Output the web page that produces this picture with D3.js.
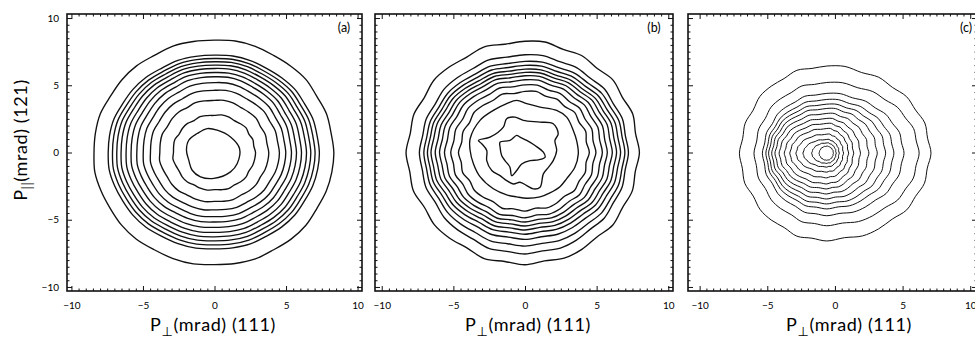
<!DOCTYPE html>
<html>
<head>
<meta charset="utf-8">
<script src="https://cdn.jsdelivr.net/npm/d3@7"></script>
<style>
  body { margin: 0; background: #fff; }
  svg { display: block; }
  text { font-family: Lato, "DejaVu Sans", sans-serif; fill: #000; }
</style>
</head>
<body>
<svg id="chart" width="975" height="339"></svg>
<script>
// ---------------------------------------------------------------------------
// Momentum-density contour maps, three samples (a), (b), (c).
// Each regular contour is given by where it crosses the horizontal and
// vertical lines through the pattern centre (all values in mrad).
// ---------------------------------------------------------------------------
const panelLabels = ["(a)", "(b)", "(c)"];
const majorTicks = [-10, -5, 0, 5, 10];
const minorStep = 0.5;
const xTitleMain = "(mrad) (111)";
const yTitleMain = "(mrad) (121)";

// panel (a)
const aCentre = [0, 0];
const aLeft   = [-8.45, -7.45, -7.15, -6.85, -6.55, -6.2, -5.85, -5.45, -5.0, -4.5, -3.85, -2.9];
const aRight  = [8.3, 7.3, 7.0, 6.7, 6.4, 6.05, 5.7, 5.35, 4.95, 4.5, 3.75, 2.82];
const aTop    = [8.38, 7.26, 7.01, 6.77, 6.52, 6.27, 5.97, 5.65, 5.22, 4.65, 3.9, 2.79];
const aBottom = [-8.38, -7.2, -6.9, -6.6, -6.3, -5.97, -5.6, -5.2, -4.8, -4.3, -3.68, -2.81];
const aWobbleScale = [1.4, 1, 1, 1, 1, 1, 1, 1, 1, 1.2, 1.4, 1.6];
const aInner = [[-1.96, 0.17], [-1.8, 0.91], [-1.21, 1.41], [-0.51, 1.78], [0.19, 1.66], [1.12, 1.16],
                [1.75, 0.3], [1.59, -0.82], [1.12, -1.44], [-0.05, -1.93], [-0.98, -1.81],
                [-1.56, -1.32], [-1.8, -0.57]];
const aWobble = [0.03, -0.02, 0.02, -0.03, 0.04, 0, -0.03, 0.02, 0.03, -0.02, 0, 0.03,
                 -0.03, 0.02, 0.01, -0.03, 0.03, 0, -0.02, 0.03, -0.01, -0.03, 0.02, 0.03,
                 -0.02, 0.01, 0.02, -0.03, 0, 0.03, -0.02, 0.02, 0.03, -0.03, 0.01, 0.02];

// panel (b)
const bCentre = [0, 0];
const bLeft   = [-8.2, -7.3, -7.0, -6.75, -6.5, -6.2, -5.9, -5.55, -5.1, -4.55];
const bRight  = [7.9, 7.16, 6.92, 6.62, 6.34, 6.04, 5.69, 5.34, 4.88, 4.41];
const bTop    = [8.26, 7.26, 6.77, 6.47, 6.19, 5.95, 5.7, 5.4, 5.02, 4.53];
const bBottom = [-8.28, -7.5, -6.92, -6.42, -6.04, -5.72, -5.42, -5.12, -4.8, -4.3];
const bWobbleScale = [0.85, 0.6, 0.5, 0.5, 0.5, 0.55, 0.55, 0.6, 0.7, 0.8];
const bWobble = [0.10, -0.08, 0.12, -0.06, 0.14, -0.10, 0.06, -0.12, 0.10, 0.02, -0.10, 0.12,
                 -0.08, 0.04, 0.12, -0.10, 0.06, -0.08, 0.12, -0.04, 0.10, -0.12, 0.08, 0.02,
                 -0.10, 0.14, -0.06, 0.08, -0.12, 0.10, 0.04, -0.10, 0.12, -0.06, 0.08, -0.10];
const bRing3 = [[-3.83, 1.02], [-3.14, 2.39], [-2.21, 3.13], [-1.28, 3.63], [-0.58, 3.88], [0.12, 3.63],
                [1.05, 3.38], [2.21, 3.13], [2.91, 2.63], [3.37, 1.64], [3.6, 0.9], [3.72, -0.1],
                [3.48, -1.1], [2.91, -1.94], [2.44, -2.54], [1.74, -3.0], [1.05, -3.3], [0.12, -3.4],
                [-0.58, -3.3], [-1.28, -3.15], [-2.21, -2.7], [-3.14, -1.8], [-3.6, -0.84], [-3.83, 0.15]];
const bRing2 = [[-3.25, 0.9], [-2.44, 1.14], [-1.51, 1.89], [-1.28, 2.51], [-0.7, 2.63], [-0.12, 2.39],
                [1.05, 2.26], [1.97, 2.14], [2.32, 1.39], [2.09, 0.9], [2.21, 0.15], [1.97, -0.6],
                [1.63, -1.1], [1.28, -1.59], [1.05, -2.59], [0.58, -2.71], [0.12, -2.46], [-0.35, -2.21],
                [-0.81, -2.34], [-1.28, -2.09], [-1.74, -1.72], [-2.32, -1.34], [-2.67, -0.6],
                [-2.67, 0.15], [-3.02, 0.65]];
const bRing1 = [[-1.74, 0.77], [-1.05, 0.9], [-0.58, 1.27], [-0.35, 1.14], [0.12, 0.9], [0.7, 0.52],
                [1.28, 0.02], [1.4, -0.35], [0.93, -0.55], [0.35, -0.6], [-0.23, -0.85], [-0.58, -1.34],
                [-0.93, -1.72], [-1.05, -1.09], [-1.4, -0.6], [-1.63, -0.22], [-1.74, 0.4]];

// panel (c)
const cCentre = [-0.6, -0.05];
const cLeft   = [-6.97, -5.91, -5.3, -5.05, -4.85, -4.62, -4.38, -4.08, -3.7, -3.3, -2.85, -2.34, -1.7, -1.16];
const cRight  = [7.02, 6.16, 5.05, 4.31, 3.7, 3.08, 2.46, 1.85, 1.35, 0.98, 0.61, 0.3, 0.08, -0.12];
const cTop    = [6.42, 5.2, 4.39, 3.94, 3.59, 3.27, 2.9, 2.53, 2.16, 1.78, 1.36, 0.97, 0.71, 0.47];
const cBottom = [-6.52, -5.4, -4.66, -4.16, -3.79, -3.42, -3.05, -2.68, -2.31, -1.86, -1.44, -1.07, -0.8, -0.57];
const cWobbleScale = [1.0, 0.8, 0.7, 0.6, 0.6, 0.6, 0.6, 0.5, 0.5, 0.45, 0.4, 0.3, 0.25, 0.2];
const cWobble = [0.08, -0.06, 0.09, -0.05, 0.07, -0.08, 0.05, -0.09, 0.08, 0.01, -0.07, 0.09,
                 -0.06, 0.03, 0.09, -0.08, 0.05, -0.06, 0.09, -0.03, 0.08, -0.09, 0.06, 0.02,
                 -0.08, 0.1, -0.05, 0.06, -0.09, 0.08, 0.03, -0.08, 0.09, -0.05, 0.06, -0.08];

// ---------------------------------------------------------------------------
const frameTop = 14, frameBottom = 291;
const yScale = d3.scaleLinear().domain([-10.3, 10.3]).range([frameBottom, frameTop]);

const panels = [
  { label: panelLabels[0], px: [67, 362], dom: [-10.31, 10.31], titleX: 213, labelX: 344, stroke: 1.35,
    centre: aCentre, L: aLeft, R: aRight, T: aTop, B: aBottom, wob: aWobble, wobScale: aWobbleScale,
    free: [aInner], yLabels: true },
  { label: panelLabels[1], px: [375, 673], dom: [-10.47, 10.33], titleX: 528, labelX: 654, stroke: 1.35,
    centre: bCentre, L: bLeft, R: bRight, T: bTop, B: bBottom, wob: bWobble, wobScale: bWobbleScale,
    free: [bRing3, bRing2, bRing1], yLabels: false },
  { label: panelLabels[2], px: [688, 977], dom: [-10.86, 10.5], titleX: 849, labelX: 966, stroke: 1.0,
    centre: cCentre, L: cLeft, R: cRight, T: cTop, B: cBottom, wob: cWobble, wobScale: cWobbleScale,
    free: [], yLabels: false }
];

const svg = d3.select("#chart");

// closed ring through the four axis crossings, with a small radial ripple
function ring(c, L, R, T, B, wob, amp) {
  const n = wob.length;
  return d3.range(n).map(k => {
    const th = 2 * Math.PI * k / n, co = Math.cos(th), si = Math.sin(th);
    const rx = co >= 0 ? R - c[0] : c[0] - L;
    const ry = si >= 0 ? T - c[1] : c[1] - B;
    const w = wob[k] * amp;
    return [c[0] + (rx + w) * co, c[1] + (ry + w) * si];
  });
}

const minorTicks = d3.range(-10, 10 + 1e-9, minorStep).filter(v => Math.abs(v % 5) > 1e-9);

panels.forEach(p => {
  const xScale = d3.scaleLinear().domain(p.dom).range(p.px);
  const g = svg.append("g");
  const line = d3.line()
    .x(d => xScale(d[0])).y(d => yScale(d[1]))
    .curve(d3.curveCatmullRomClosed.alpha(0.5));

  // contours
  const rings = p.L.map((_, i) => ring(p.centre, p.L[i], p.R[i], p.T[i], p.B[i], p.wob, p.wobScale[i]));
  g.append("g").selectAll("path")
    .data(rings.concat(p.free))
    .join("path")
    .attr("d", line)
    .attr("fill", "none")
    .attr("stroke", "#111")
    .attr("stroke-width", p.stroke)
    .attr("stroke-linejoin", "round");

  // ticks on all four sides, pointing inwards
  const axes = [
    [d3.axisBottom(xScale), `translate(0,${frameBottom})`],
    [d3.axisTop(xScale), `translate(0,${frameTop})`],
    [d3.axisLeft(yScale), `translate(${p.px[0]},0)`],
    [d3.axisRight(yScale), `translate(${p.px[1]},0)`]
  ];
  axes.forEach(([ax, tr], idx) => {
    const minor = g.append("g").attr("transform", tr)
      .call(ax.tickValues(minorTicks).tickSize(-2.5).tickFormat(""));
    minor.select(".domain").remove();
    const showLabels = idx === 0 || (idx === 2 && p.yLabels);
    const major = g.append("g").attr("transform", tr)
      .call(ax.tickValues(majorTicks).tickSize(-5).tickPadding(idx === 0 ? 11 : 8)
        .tickFormat(showLabels ? d3.format("d") : ""));
    major.select(".domain").remove();
    major.selectAll("text").attr("font-size", 10).attr("font-family", "Lato, 'DejaVu Sans', sans-serif");
    g.selectAll(".tick line").attr("stroke", "#111").attr("stroke-width", 1);
  });

  // frame
  g.append("rect")
    .attr("x", p.px[0]).attr("y", frameTop)
    .attr("width", p.px[1] - p.px[0]).attr("height", frameBottom - frameTop)
    .attr("fill", "none").attr("stroke", "#111").attr("stroke-width", 1.6);

  // panel letter
  g.append("text").attr("x", p.labelX).attr("y", 32)
    .attr("text-anchor", "middle").attr("font-size", 12.5).text(p.label);

  // x title: P with perpendicular subscript
  const xt = g.append("text").attr("x", p.titleX).attr("y", 331)
    .attr("text-anchor", "middle").attr("font-size", 18).attr("letter-spacing", 0.6);
  xt.append("tspan").text("P");
  xt.append("tspan").attr("dy", 5).attr("font-size", 13).text("⊥");
  xt.append("tspan").attr("dy", -5).text(xTitleMain);
});

// y title: P with parallel subscript
const yt = svg.append("text")
  .attr("transform", "translate(27,140) rotate(-90)")
  .attr("text-anchor", "middle").attr("font-size", 18).attr("letter-spacing", 0.6);
yt.append("tspan").text("P");
yt.append("tspan").attr("dy", 5).attr("font-size", 13).text("||");
yt.append("tspan").attr("dy", -5).text(yTitleMain);
</script>
</body>
</html>
